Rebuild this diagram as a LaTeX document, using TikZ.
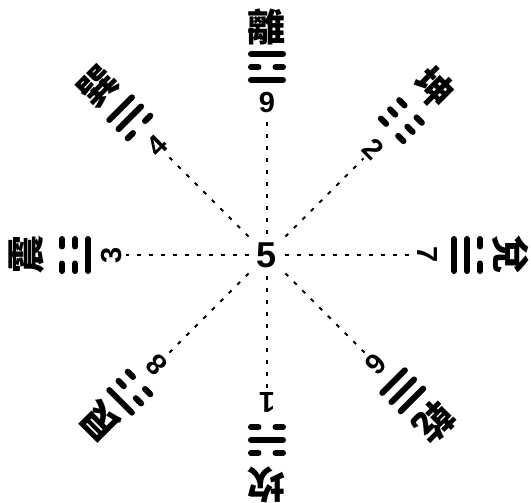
\documentclass[tikz,border=0pt]{standalone}
\usepackage{fontspec}
\setmainfont{Liberation Sans}
\newfontfamily\cjk{Noto Sans CJK TC}

\tikzset{
	num/.style={font=\bfseries\fontsize{14.5}{14.5}\selectfont, inner sep=1.5pt},
	gua/.style={font=\cjk\bfseries\fontsize{19}{19}\selectfont, inner sep=0pt},
	bar/.style={line width=3pt, line cap=round},
	link/.style={dash pattern=on 2pt off 4pt, line width=1pt}
}

\begin{document}
\begin{tikzpicture}[x=0.5pt, y=0.5pt]
			\useasboundingbox (-267,-248) rectangle (264,255);
			
			\node[font=\bfseries\fontsize{18}{18}\selectfont, inner sep=4pt] (five) at (0,0) {5};
			
			% south (top): Li
			\node[num] (n9) at (90:152) {9};
			\node[gua] (li) at (90:228) {離};
			\begin{scope}[shift={(90:188)}]
				\draw[bar] (-16,-13) -- (16,-13);
				\draw[bar] (-16,0) -- (-8.5,0) (8.5,0) -- (16,0);
				\draw[bar] (-16,13) -- (16,13);
			\end{scope}
			\draw[link] (five) -- (n9);
			
			% southwest: Kun
			\node[num, rotate=-45] (n2) at (45:150) {2};
			\node[gua, rotate=-45] (kun) at (45:236) {坤};
			\begin{scope}[shift={(45:190)}, rotate=-45]
				\draw[bar] (-16,-13) -- (-8.5,-13) (8.5,-13) -- (16,-13);
				\draw[bar] (-16,0) -- (-8.5,0) (8.5,0) -- (16,0);
				\draw[bar] (-16,13) -- (-8.5,13) (8.5,13) -- (16,13);
			\end{scope}
			\draw[link] (five) -- (n2);
			
			% west: Dui
			\node[num, rotate=-90] (n7) at (0:160) {7};
			\node[gua, rotate=-90] (dui) at (0:244) {兌};
			\begin{scope}[shift={(0:200)}, rotate=-90]
				\draw[bar] (-16,-13) -- (16,-13);
				\draw[bar] (-16,0) -- (16,0);
				\draw[bar] (-16,13) -- (-8.5,13) (8.5,13) -- (16,13);
			\end{scope}
			\draw[link] (five) -- (n7);
			
			% northwest: Qian
			\node[num, rotate=-135] (n6) at (-45:154) {6};
			\node[gua, rotate=-135] (qian) at (-45:237) {乾};
			\begin{scope}[shift={(-45:192)}, rotate=-135]
				\draw[bar] (-16,-13) -- (16,-13);
				\draw[bar] (-16,0) -- (16,0);
				\draw[bar] (-16,13) -- (16,13);
			\end{scope}
			\draw[link] (five) -- (n6);
			
			% north (bottom): Kan
			\node[num, rotate=180] (n1) at (-90:147) {1};
			\node[gua, rotate=180] (kan) at (-90:230) {坎};
			\begin{scope}[shift={(-90:185)}, rotate=180]
				\draw[bar] (-16,-13) -- (-8.5,-13) (8.5,-13) -- (16,-13);
				\draw[bar] (-16,0) -- (16,0);
				\draw[bar] (-16,13) -- (-8.5,13) (8.5,13) -- (16,13);
			\end{scope}
			\draw[link] (five) -- (n1);
			
			% northeast: Gen
			\node[num, rotate=135] (n8) at (-135:156) {8};
			\node[gua, rotate=135] (gen) at (-135:236) {艮};
			\begin{scope}[shift={(-135:194)}, rotate=135]
				\draw[bar] (-16,-13) -- (-8.5,-13) (8.5,-13) -- (16,-13);
				\draw[bar] (-16,0) -- (-8.5,0) (8.5,0) -- (16,0);
				\draw[bar] (-16,13) -- (16,13);
			\end{scope}
			\draw[link] (five) -- (n8);
			
			% east: Zhen
			\node[num, rotate=90] (n3) at (180:155) {3};
			\node[gua, rotate=90] (zhen) at (180:240) {震};
			\begin{scope}[shift={(180:192)}, rotate=90]
				\draw[bar] (-16,-13) -- (16,-13);
				\draw[bar] (-16,0) -- (-8.5,0) (8.5,0) -- (16,0);
				\draw[bar] (-16,13) -- (-8.5,13) (8.5,13) -- (16,13);
			\end{scope}
			\draw[link] (five) -- (n3);
			
			% southeast: Xun
			\node[num, rotate=45] (n4) at (135:155) {4};
			\node[gua, rotate=45] (xun) at (135:239) {巽};
			\begin{scope}[shift={(135:194)}, rotate=45]
				\draw[bar] (-16,-13) -- (-8.5,-13) (8.5,-13) -- (16,-13);
				\draw[bar] (-16,0) -- (16,0);
				\draw[bar] (-16,13) -- (16,13);
			\end{scope}
			\draw[link] (five) -- (n4);
		\end{tikzpicture}
\end{document}
